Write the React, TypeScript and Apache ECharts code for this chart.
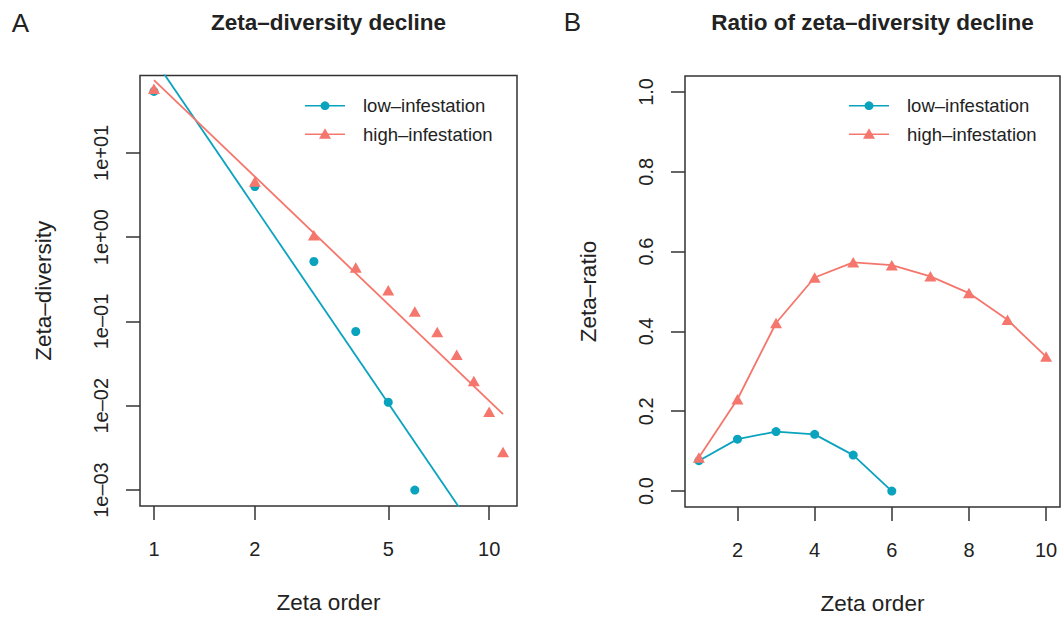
import React, { useEffect, useRef } from "react";
import * as echarts from "echarts";

// ---------- data ----------
const seriesNames = ["low–infestation", "high–infestation"];

// Panel A: zeta-diversity by zeta order (log-log)
const zetaOrders = [1, 2, 3, 4, 5, 6, 7, 8, 9, 10, 11];
const lowZeta = [53.5, 3.99, 0.514, 0.076, 0.011, 0.001];
const highZeta = [57.4, 4.57, 1.05, 0.436, 0.235, 0.131, 0.0748, 0.0403, 0.0196, 0.0085, 0.00282];
// fitted power-law lines (end points at order 1 and 11)
const fitOrders = [1, 11];
const lowFit = [129.6, 0.000107];
const highFit = [72.8, 0.00796];

// Panel B: zeta ratio
const ratioOrders = [1, 2, 3, 4, 5, 6, 7, 8, 9, 10];
const lowRatio = [0.076, 0.13, 0.149, 0.142, 0.09, 0.0];
const highRatio = [0.084, 0.23, 0.421, 0.535, 0.573, 0.566, 0.538, 0.496, 0.429, 0.337];
const ratioLimits = [0, 1];

// tick labels
const leftXTicks = [1, 2, 5, 10];
const leftYTicks = [10, 1, 0.1, 0.01, 0.001];
const rightXTicks = [2, 4, 6, 8, 10];
const rightYTicks = [0, 0.2, 0.4, 0.6, 0.8, 1.0];

// ---------- styles ----------
const FONT = '"Liberation Sans", Arial, Helvetica, sans-serif';
const TEAL = "#0aa3bd";
const SALMON = "#f5766c";
const INK = "#222";
const FRAME = "#333";

const pad = (lo: number, hi: number) => {
  const d = hi - lo;
  return [lo - 0.04 * d, hi + 0.04 * d];
};

const expLabel = (v: number) => {
  const e = Math.round(v);
  return "1e" + (e < 0 ? "–" : "+") + String(Math.abs(e)).padStart(2, "0");
};

function axisBase(o: any) {
  return {
    type: "value",
    nameLocation: "middle",
    nameMoveOverlap: false,
    nameTextStyle: { fontSize: 22.5, color: INK, fontFamily: FONT },
    axisLine: { show: false, onZero: false },
    splitLine: { show: false },
    axisTick: {
      show: true,
      length: 14,
      lineStyle: { color: FRAME, width: 1.5 },
      customValues: o.ticks,
    },
    axisLabel: {
      customValues: o.ticks,
      formatter: o.formatter,
      fontSize: 20,
      color: INK,
      fontFamily: FONT,
      margin: o.margin,
      rotate: o.rotate || 0,
    },
    ...o.extra,
  };
}

export default function App() {
  const ref = useRef<HTMLDivElement>(null);

  useEffect(() => {
    document.body.style.margin = "0";
    if (!ref.current) return;
    const chart = echarts.init(ref.current, null, { renderer: "svg" });

    const lx = pad(Math.log10(zetaOrders[0]), Math.log10(zetaOrders[zetaOrders.length - 1]));
    const ly = pad(Math.log10(Math.min(...lowZeta)), Math.log10(Math.max(...lowZeta)));
    const rx = pad(ratioOrders[0], ratioOrders[ratioOrders.length - 1]);
    const ry = pad(ratioLimits[0], ratioLimits[1]);

    const logPts = (xs: number[], ys: number[]) =>
      ys.map((y, i) => [Math.log10(xs[i]), Math.log10(y)]);
    const pts = (xs: number[], ys: number[]) => ys.map((y, i) => [xs[i], y]);

    const legendRows = [105.7, 134.3];
    const legendBlocks = [
      { lineX: 305, text: 363 },
      { lineX: 849, text: 907 },
    ];
    const colors = [TEAL, SALMON];
    const graphic: any[] = [];
    legendBlocks.forEach((b) => {
      seriesNames.forEach((name, i) => {
        const y = legendRows[i];
        const cx = b.lineX + 20;
        graphic.push({
          type: "line",
          shape: { x1: b.lineX, y1: y, x2: b.lineX + 40, y2: y },
          style: { stroke: colors[i], lineWidth: 1.6 },
          z: 10,
        });
        if (i === 0) {
          graphic.push({
            type: "circle",
            shape: { cx, cy: y, r: 4.4 },
            style: { fill: colors[i] },
            z: 11,
          });
        } else {
          graphic.push({
            type: "polygon",
            shape: { points: [[cx - 6, y + 4.5], [cx + 6, y + 4.5], [cx, y - 6]] },
            style: { fill: colors[i] },
            z: 11,
          });
        }
        graphic.push({
          type: "text",
          x: b.text,
          y,
          style: {
            text: name,
            fontSize: 18.5,
            fontFamily: FONT,
            fill: INK,
            align: "left",
            verticalAlign: "middle",
          },
          z: 11,
        });
      });
    });

    const option: any = {
      animation: false,
      backgroundColor: "#ffffff",
      title: [
        { text: "A", left: 20.3, top: 10, textAlign: "center", padding: 0,
          textStyle: { fontSize: 26, fontWeight: "normal", color: INK, fontFamily: FONT } },
        { text: "B", left: 572.5, top: 9, textAlign: "center", padding: 0,
          textStyle: { fontSize: 26, fontWeight: "normal", color: INK, fontFamily: FONT } },
        { text: "Zeta–diversity decline", left: 328.5, top: 11, textAlign: "center", padding: 0,
          textStyle: { fontSize: 22.5, fontWeight: "bold", color: INK, fontFamily: FONT } },
        { text: "Ratio of zeta–diversity decline", left: 872.5, top: 11, textAlign: "center", padding: 0,
          textStyle: { fontSize: 22.5, fontWeight: "bold", color: INK, fontFamily: FONT } },
      ],
      grid: [
        { left: 140, top: 75.5, width: 377, height: 430.5, show: true, borderColor: FRAME,
          borderWidth: 1.5, backgroundColor: "transparent", containLabel: false, outerBoundsMode: "none" },
        { left: 685, top: 76, width: 375, height: 431, show: true, borderColor: FRAME,
          borderWidth: 1.5, backgroundColor: "transparent", containLabel: false, outerBoundsMode: "none" },
      ],
      xAxis: [
        axisBase({
          ticks: leftXTicks.map((t) => Math.log10(t)),
          formatter: (v: number) => String(Math.round(Math.pow(10, v))),
          margin: 33,
          extra: { gridIndex: 0, min: lx[0], max: lx[1], name: "Zeta order", nameGap: 85, position: "bottom" },
        }),
        axisBase({
          ticks: rightXTicks,
          formatter: (v: number) => String(Math.round(v)),
          margin: 33,
          extra: { gridIndex: 1, min: rx[0], max: rx[1], name: "Zeta order", nameGap: 85, position: "bottom" },
        }),
      ],
      yAxis: [
        axisBase({
          ticks: leftYTicks.map((t) => Math.log10(t)),
          formatter: expLabel,
          margin: 29,
          rotate: 90,
          extra: { gridIndex: 0, min: ly[0], max: ly[1], name: "Zeta–diversity", nameGap: 85, position: "left" },
        }),
        axisBase({
          ticks: rightYTicks,
          formatter: (v: number) => v.toFixed(1),
          margin: 29,
          rotate: 90,
          extra: { gridIndex: 1, min: ry[0], max: ry[1], name: "Zeta–ratio", nameGap: 85, position: "left" },
        }),
      ],
      graphic,
      series: [
        {
          name: seriesNames[0], type: "scatter", xAxisIndex: 0, yAxisIndex: 0,
          data: logPts(zetaOrders, lowZeta), symbol: "circle", symbolSize: 9,
          itemStyle: { color: TEAL, opacity: 1 }, z: 3,
        },
        {
          name: seriesNames[1], type: "scatter", xAxisIndex: 0, yAxisIndex: 0,
          data: logPts(zetaOrders, highZeta), symbol: "triangle", symbolSize: [12, 10.5],
          itemStyle: { color: SALMON, opacity: 1 }, z: 3,
        },
        {
          name: seriesNames[0] + " fit", type: "line", xAxisIndex: 0, yAxisIndex: 0,
          data: logPts(fitOrders, lowFit), showSymbol: false, symbol: "none", clip: true,
          lineStyle: { color: TEAL, width: 1.8 }, z: 4,
        },
        {
          name: seriesNames[1] + " fit", type: "line", xAxisIndex: 0, yAxisIndex: 0,
          data: logPts(fitOrders, highFit), showSymbol: false, symbol: "none", clip: true,
          lineStyle: { color: SALMON, width: 1.8 }, z: 4,
        },
        {
          name: seriesNames[0], type: "line", xAxisIndex: 1, yAxisIndex: 1,
          data: pts(ratioOrders, lowRatio), symbol: "circle", symbolSize: 9, showSymbol: true,
          lineStyle: { color: TEAL, width: 1.8 }, itemStyle: { color: TEAL }, z: 3,
        },
        {
          name: seriesNames[1], type: "line", xAxisIndex: 1, yAxisIndex: 1,
          data: pts(ratioOrders, highRatio), symbol: "triangle", symbolSize: [12, 10.5], showSymbol: true,
          lineStyle: { color: SALMON, width: 1.8 }, itemStyle: { color: SALMON }, z: 4,
        },
      ],
    };

    chart.setOption(option);
    return () => chart.dispose();
  }, []);

  return <div ref={ref} style={{ width: 1064, height: 618 }} />;
}
